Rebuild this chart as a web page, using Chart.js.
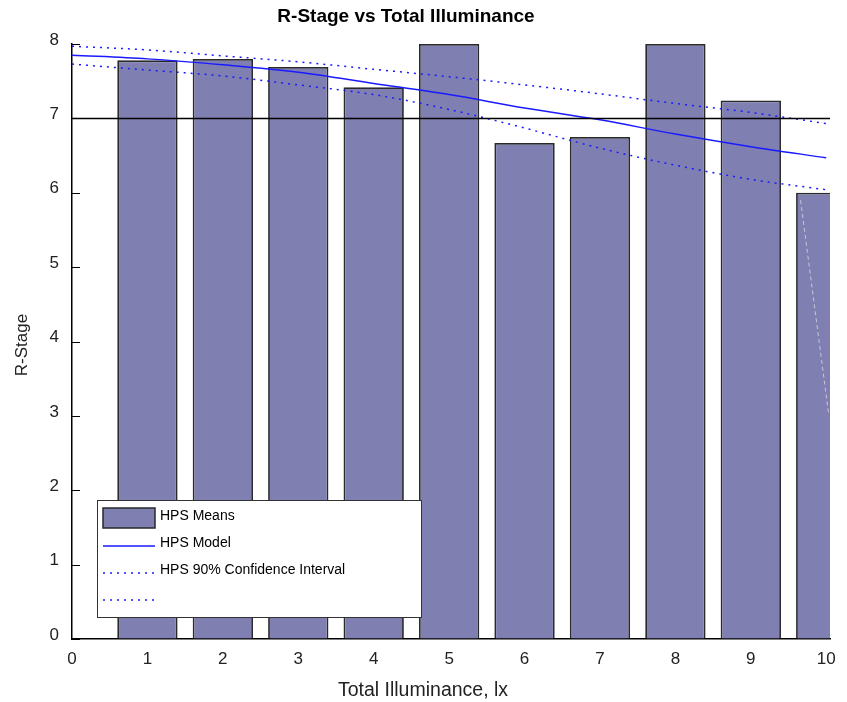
<!DOCTYPE html>
<html>
<head>
<meta charset="utf-8">
<script src="https://cdn.jsdelivr.net/npm/chart.js@4"></script>
<style>
  html, body { margin: 0; padding: 0; background: #fff; }
  #wrap { width: 847px; height: 702px; }
</style>
</head>
<body>
<div id="wrap"><canvas id="chart" width="847" height="702"></canvas></div>
<script>
// values
const barX = [1, 2, 3, 4, 5, 6, 7, 8, 9, 10];
const hpsMeans = [7.78, 7.80, 7.69, 7.42, 8.0, 6.67, 6.75, 8.0, 7.24, 6.0];
const curveX = [0, 1, 2, 3, 4, 5, 6, 7, 8, 9, 10];
const hpsModel = [7.85, 7.80, 7.72, 7.62, 7.47, 7.32, 7.14, 6.98, 6.79, 6.62, 6.47];
const ciUpper = [7.97, 7.92, 7.84, 7.76, 7.66, 7.56, 7.45, 7.33, 7.20, 7.08, 6.93];
const ciLower = [7.73, 7.65, 7.57, 7.45, 7.32, 7.12, 6.87, 6.60, 6.37, 6.18, 6.04];
const refLineX = [0, 10.05];
const refLineY = [7, 7];
const strayX = [9.66, 10.03];
const strayY = [5.9, 3.04];
const xTicks = [0, 1, 2, 3, 4, 5, 6, 7, 8, 9, 10];

const toPoints = (xs, ys) => xs.map((x, i) => ({ x: x, y: ys[i] }));

const FONT = "'Liberation Sans', Arial, sans-serif";

// title, axis titles, inward ticks and the boxed legend
const extras = {
    id: 'extras',
    afterDatasetsDraw(chart) {
        const ctx = chart.ctx;
        const y = chart.scales.y;
        const area = chart.chartArea;
        ctx.save();
        // inward ticks on the y axis
        ctx.strokeStyle = '#000';
        ctx.lineWidth = 1;
        for (let v = 0; v <= 8; v++) {
            const py = Math.round(y.getPixelForValue(v)) + 0.5;
            ctx.beginPath();
            ctx.moveTo(area.left, py);
            ctx.lineTo(area.left + 8, py);
            ctx.stroke();
        }

        // legend box
        const ds = chart.data.datasets;
        const bx = 97, by = 500, bw = 324, bh = 117;
        ctx.fillStyle = '#fff';
        ctx.fillRect(bx, by, bw, bh);
        ctx.strokeStyle = '#333';
        ctx.lineWidth = 1;
        ctx.strokeRect(bx + 0.5, by + 0.5, bw, bh);

        ctx.font = '14px ' + FONT;
        ctx.textBaseline = 'middle';
        ctx.textAlign = 'left';

        // bar swatch
        ctx.fillStyle = ds[0].backgroundColor;
        ctx.fillRect(103, 508, 52, 20);
        ctx.strokeStyle = ds[0].borderColor;
        ctx.lineWidth = 1.5;
        ctx.strokeRect(103, 508, 52, 20);
        ctx.fillStyle = '#000';
        ctx.fillText(ds[0].label, 160, 516);

        const rows = [
            { d: ds[1], y: 546, ty: 543 },
            { d: ds[2], y: 573, ty: 570 },
            { d: ds[3], y: 600, ty: 597 }
        ];
        rows.forEach(r => {
            ctx.strokeStyle = r.d.borderColor;
            ctx.lineWidth = r.d.borderWidth;
            ctx.setLineDash(r.d.borderDash || []);
            ctx.beginPath();
            ctx.moveTo(103, r.y);
            ctx.lineTo(155, r.y);
            ctx.stroke();
            ctx.setLineDash([]);
            if (r.d.label) {
                ctx.fillStyle = '#000';
                ctx.fillText(r.d.label, 160, r.ty);
            }
        });

        // titles
        ctx.fillStyle = '#000';
        ctx.textAlign = 'center';
        ctx.font = 'bold 19px ' + FONT;
        ctx.fillText('R-Stage vs Total Illuminance', 406, 17);
        ctx.fillStyle = '#222';
        ctx.font = '19.5px ' + FONT;
        ctx.fillText('Total Illuminance, lx', 423, 691);
        ctx.font = '17px ' + FONT;
        ctx.translate(22, 345);
        ctx.rotate(-Math.PI / 2);
        ctx.fillText('R-Stage', 0, 0);
        ctx.restore();
    }
};

new Chart(document.getElementById('chart'), {
    type: 'bar',
    data: {
        datasets: [
            {
                label: 'HPS Means',
                data: toPoints(barX, hpsMeans),
                backgroundColor: '#7f7fb2',
                borderColor: '#2a2a2a',
                borderWidth: 1.8,
                barPercentage: 0.8,
                categoryPercentage: 1.0,
                order: 10
            },
            {
                type: 'line',
                label: 'HPS Model',
                data: toPoints(curveX, hpsModel),
                borderColor: '#1a1aff',
                borderWidth: 1.5,
                pointRadius: 0,
                cubicInterpolationMode: 'monotone',
                order: 2
            },
            {
                type: 'line',
                label: 'HPS 90% Confidence Interval',
                data: toPoints(curveX, ciUpper),
                borderColor: '#1a1aff',
                borderWidth: 1.5,
                borderDash: [2, 5],
                pointRadius: 0,
                cubicInterpolationMode: 'monotone',
                order: 2
            },
            {
                type: 'line',
                label: '',
                data: toPoints(curveX, ciLower),
                borderColor: '#1a1aff',
                borderWidth: 1.5,
                borderDash: [2, 5],
                pointRadius: 0,
                cubicInterpolationMode: 'monotone',
                order: 2
            },
            {
                type: 'line',
                label: 'ref',
                data: toPoints(refLineX, refLineY),
                borderColor: '#000',
                borderWidth: 1.5,
                pointRadius: 0,
                order: 1
            },
            {
                type: 'line',
                label: 'stray',
                data: toPoints(strayX, strayY),
                borderColor: 'rgba(255,255,255,0.55)',
                borderWidth: 1,
                borderDash: [4, 3],
                pointRadius: 0,
                order: 1
            }
        ]
    },
    options: {
        responsive: false,
        animation: false,
        layout: { padding: { top: 44, right: 17, left: 0, bottom: 0 } },
        plugins: {
            legend: { display: false },
            title: { display: false },
            tooltip: { enabled: false }
        },
        scales: {
            x: {
                type: 'linear',
                offset: false,
                min: 0,
                max: 10.05,
                afterBuildTicks: scale => { scale.ticks = xTicks.map(v => ({ value: v })); },
                afterFit: scale => { scale.height = 63; },
                grid: { display: true, offset: false, drawOnChartArea: false, drawTicks: false },
                border: { display: true, color: '#000', width: 1.5 },
                ticks: {
                    padding: 10,
                    color: '#222',
                    font: { family: FONT, size: 17 },
                    maxRotation: 0,
                    autoSkip: false
                }
            },
            y: {
                min: 0,
                max: 8,
                afterFit: scale => { scale.width = 72; },
                grid: { display: true, drawOnChartArea: false, drawTicks: false },
                border: { display: true, color: '#000', width: 1.5 },
                ticks: {
                    stepSize: 1,
                    padding: 13,
                    color: '#222',
                    font: { family: FONT, size: 17, lineHeight: '8px' },
                    // second empty line lifts each label a few pixels above its tick
                    callback: v => [String(v), '']
                }
            }
        }
    },
    plugins: [extras]
});
</script>
</body>
</html>
